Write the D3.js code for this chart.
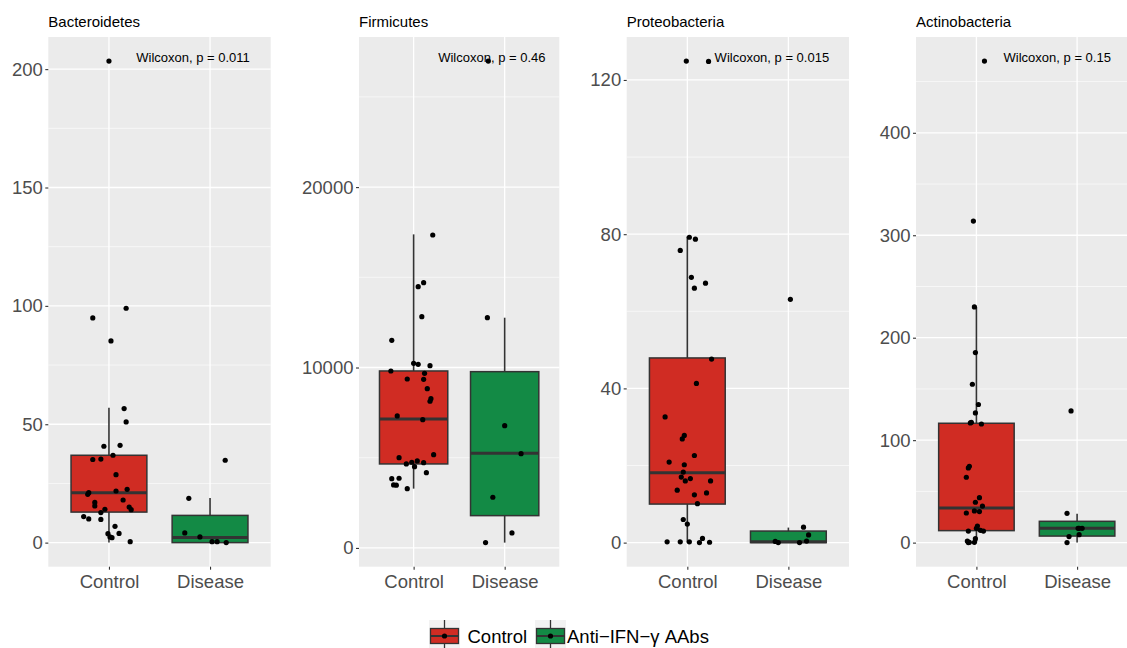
<!DOCTYPE html>
<html>
<head>
<meta charset="utf-8">
<script src="https://cdn.jsdelivr.net/npm/d3@7"></script>
<style>
  body { margin: 0; background: #fff; }
  svg { display: block; font-family: "Liberation Sans", Arial, sans-serif; }
</style>
</head>
<body>
<div id="chart"></div>
<script>
// categories and labels
const phyla = ['Bacteroidetes', 'Firmicutes', 'Proteobacteria', 'Actinobacteria'];
const groups = ['Control', 'Disease'];
const legendLabels = ['Control', 'Anti\u2212IFN\u2212\u03b3 AAbs'];
const pLabels = ['Wilcoxon, p = 0.011', 'Wilcoxon, p = 0.46', 'Wilcoxon, p = 0.015', 'Wilcoxon, p = 0.15'];

// tick values per panel
const bactTicks = [0, 50, 100, 150, 200];
const bactMinor = [25, 75, 125, 175];
const firmTicks = [0, 10000, 20000];
const firmMinor = [5000, 15000, 25000];
const proteoTicks = [0, 40, 80, 120];
const proteoMinor = [20, 60, 100];
const actinoTicks = [0, 100, 200, 300, 400];
const actinoMinor = [50, 150, 250, 350, 450];

// box stats: [lower whisker, q1, median, q3, upper whisker] for Control, Disease
const bactBoxes = [[0, 12.9, 21.1, 36.9, 57], [0, 0, 2.2, 11.5, 18.9]];
const firmBoxes = [[3286, 4655, 7148, 9808, 17380], [294, 1790, 5246, 9770, 12760]];
const proteoBoxes = [[0, 10, 18.1, 47.9, 79.4], [0, 0, 0.2, 3, 3.9]];
const actinoBoxes = [[0, 11.7, 33.8, 116.5, 230], [0, 6.4, 14, 20.8, 28.3]];

// sample values and their jitter (in category units)
const bactControl = [203.4, 99, 94.9, 85.2, 56.6, 51, 40.7, 41.1, 36.9, 35.1, 35.3, 28.7, 21.8, 22.5, 21.1, 20.4,
  18, 17, 15.5, 15, 13.9, 14.1, 12.7, 11, 10, 9.8, 6.9, 3.8, 3.9, 2.1, 2.4, 0.4];
const bactControlJit = [0, 0.17, -0.16, 0.02, 0.15, 0.17, -0.05, 0.11, 0.04, -0.16, -0.08, 0.07, 0.07, 0.18, -0.2, -0.21,
  0.14, -0.14, -0.14, 0.2, 0.22, -0.04, -0.08, -0.25, -0.2, -0.08, 0.06, -0.01, 0.1, 0.03, 0.01, 0.21];
const bactDisease = [34.8, 18.7, 4.1, 2.4, 0.4, 0.4, 0];
const bactDiseaseJit = [0.15, -0.21, -0.25, -0.1, 0.02, 0.07, 0.16];

const firmControl = [17344, 14700, 14480, 12817, 11508, 10234, 10179, 10101, 9808, 9680, 9364, 9348, 8827, 8273, 8129,
  7314, 7109, 5170, 5004, 4821, 4749, 4727, 4655, 4505, 4173, 3840, 3862, 3491, 3480, 3286];
const firmControlJit = [0.21, 0.11, 0.05, 0.09, -0.24, 0, 0.05, 0.18, -0.25, 0.12, -0.07, 0.11, 0.15, 0.19, 0.18,
  -0.18, 0.1, 0.22, -0.16, 0.04, -0.02, 0.11, -0.08, 0.01, 0.14, -0.24, -0.16, -0.22, -0.19, -0.07];
const firmDisease = [26985, 12760, 6777, 5225, 2809, 831, 294];
const firmDiseaseJit = [-0.18, -0.19, 0, 0.18, -0.13, 0.08, -0.21];

const proteoControl = [124.9, 124.8, 79.2, 78.7, 75.8, 68.8, 67.3, 66, 47.6, 41.3, 32.6, 27.8, 26.9, 22.6, 20.9, 20.2,
  18.3, 17, 16.6, 16, 16, 13.6, 12.9, 12.4, 10.1, 6, 4.8, 0.2, 0.2, 0.2, 1.1, 0, 0.1];
const proteoControlJit = [-0.01, 0.21, 0.02, 0.08, -0.07, 0.04, 0.18, 0.07, 0.24, 0.09, -0.22, -0.03, -0.05, 0.07, -0.18, -0.03,
  -0.04, -0.06, 0.03, -0.02, 0.23, -0.1, 0.19, 0.07, 0.1, -0.04, 0, -0.2, -0.07, 0.02, 0.15, 0.12, 0.22];
const proteoDisease = [63.1, 4, 2, 0.3, 0, 0, 0.4];
const proteoDiseaseJit = [0.02, 0.15, 0.2, -0.13, -0.1, 0.11, 0.18];

const actinoControl = [470, 313.8, 230, 185.5, 154.6, 134.8, 126.6, 116.8, 117.5, 115.8, 74.5, 72.9, 63.8, 43.9, 39.4,
  35.7, 28.9, 30.9, 30.3, 16.2, 14, 11.3, 12, 11.3, 3.9, 1.6, 0.3, 0.3, 0];
const actinoControlJit = [0.08, -0.03, -0.02, -0.01, -0.04, 0.02, -0.01, -0.06, -0.05, 0.05, -0.07, -0.08, -0.1, 0.03, -0.01,
  0.06, -0.1, -0.02, 0.03, 0.01, 0, -0.08, 0.04, 0.07, -0.01, -0.09, -0.07, -0.02, -0.08];
const actinoDisease = [128.5, 28.6, 14, 14, 14, 5.9, 7.8, 0];
const actinoDiseaseJit = [-0.06, -0.1, 0.02, 0.05, 0.01, -0.08, 0.02, -0.1];

const fillColors = ['#d02c23', '#138a45'];

// page layout
const width = 1127;
const height = 648;
const panelTop = 37;
const panelBottom = 566.7;
const panelLeft = [48.3, 359, 626.7, 916];
const panelWidth = [222.4, 200.3, 222.3, 221.5];

const panels = [
  {ticks: bactTicks, minor: bactMinor, boxes: bactBoxes, vals: [bactControl, bactDisease], jit: [bactControlJit, bactDiseaseJit]},
  {ticks: firmTicks, minor: firmMinor, boxes: firmBoxes, vals: [firmControl, firmDisease], jit: [firmControlJit, firmDiseaseJit]},
  {ticks: proteoTicks, minor: proteoMinor, boxes: proteoBoxes, vals: [proteoControl, proteoDisease], jit: [proteoControlJit, proteoDiseaseJit]},
  {ticks: actinoTicks, minor: actinoMinor, boxes: actinoBoxes, vals: [actinoControl, actinoDisease], jit: [actinoControlJit, actinoDiseaseJit]}
];

const svg = d3.select('#chart').append('svg')
  .attr('width', width)
  .attr('height', height);

panels.forEach((p, k) => {
  const left = panelLeft[k];
  const right = left + panelWidth[k];

  // y range like ggplot: data extent plus 5% each side
  const all = p.vals[0].concat(p.vals[1]);
  const lo = d3.min(all), hi = d3.max(all);
  const pad = (hi - lo) * 0.05;
  const y = d3.scaleLinear().domain([lo - pad, hi + pad]).range([panelBottom, panelTop]);
  const x = d3.scalePoint().domain(groups).range([left, right]).padding(0.6);
  const step = x.step();

  const g = svg.append('g');

  // panel background and grid
  g.append('rect')
    .attr('x', left).attr('y', panelTop)
    .attr('width', right - left).attr('height', panelBottom - panelTop)
    .attr('fill', '#ebebeb');

  g.selectAll('.minor').data(p.minor).enter().append('line')
    .attr('x1', left).attr('x2', right)
    .attr('y1', d => y(d)).attr('y2', d => y(d))
    .attr('stroke', '#fff').attr('stroke-width', 0.6);

  g.selectAll('.major').data(p.ticks).enter().append('line')
    .attr('x1', left).attr('x2', right)
    .attr('y1', d => y(d)).attr('y2', d => y(d))
    .attr('stroke', '#fff').attr('stroke-width', 1.3);

  g.selectAll('.vgrid').data(groups).enter().append('line')
    .attr('x1', d => x(d)).attr('x2', d => x(d))
    .attr('y1', panelTop).attr('y2', panelBottom)
    .attr('stroke', '#fff').attr('stroke-width', 1.3);

  // axes
  const yAxis = d3.axisLeft(y).tickValues(p.ticks).tickFormat(d3.format('d')).tickSize(3).tickPadding(2.5);
  const ya = g.append('g').attr('transform', `translate(${left},0)`).call(yAxis);
  const xAxis = d3.axisBottom(x).tickSize(3).tickPadding(5);
  const xa = g.append('g').attr('transform', `translate(0,${panelBottom})`).call(xAxis);
  [ya, xa].forEach(a => {
    a.select('.domain').remove();
    a.selectAll('line').attr('stroke', '#333').attr('stroke-width', 1.1);
    a.selectAll('text').attr('fill', '#4d4d4d').style('font-size', '18.5px')
      .style('font-family', '"Liberation Sans", Arial, sans-serif');
  });

  // boxplots
  groups.forEach((grp, j) => {
    const b = p.boxes[j];
    const cx = x(grp);
    const bw = step * 0.75;
    const bg = g.append('g');
    bg.append('line')
      .attr('x1', cx).attr('x2', cx)
      .attr('y1', y(b[0])).attr('y2', y(b[4]))
      .attr('stroke', '#333').attr('stroke-width', 1.6);
    bg.append('rect')
      .attr('x', cx - bw / 2).attr('width', bw)
      .attr('y', y(b[3])).attr('height', Math.max(y(b[1]) - y(b[3]), 0.5))
      .attr('fill', fillColors[j])
      .attr('stroke', '#333').attr('stroke-width', 1.5);
    bg.append('line')
      .attr('x1', cx - bw / 2).attr('x2', cx + bw / 2)
      .attr('y1', y(b[2])).attr('y2', y(b[2]))
      .attr('stroke', '#333').attr('stroke-width', 3);

    // jittered points
    g.selectAll('.pt' + j).data(p.vals[j]).enter().append('circle')
      .attr('cx', (d, i) => cx + p.jit[j][i] * step)
      .attr('cy', d => y(d))
      .attr('r', 2.6)
      .attr('fill', '#000');
  });

  // titles and p value
  svg.append('text')
    .attr('x', left).attr('y', 27)
    .style('font-size', '15px')
    .attr('fill', '#000')
    .text(phyla[k]);

  svg.append('text')
    .attr('x', x(groups[0]) + 0.27 * step).attr('y', 62)
    .style('font-size', '13px')
    .attr('fill', '#000')
    .text(pLabels[k]);
});

// legend
const legendY = 636;
const keyX = [429, 535];
const textX = [467.5, 567];
legendLabels.forEach((lab, j) => {
  const kx = keyX[j];
  const lg = svg.append('g');
  lg.append('rect')
    .attr('x', kx).attr('y', legendY - 16)
    .attr('width', 31).attr('height', 32)
    .attr('fill', '#f2f2f2');
  lg.append('line')
    .attr('x1', kx + 15.5).attr('x2', kx + 15.5)
    .attr('y1', legendY - 16).attr('y2', legendY + 16)
    .attr('stroke', '#333').attr('stroke-width', 1.3);
  lg.append('rect')
    .attr('x', kx + 1.5).attr('y', legendY - 7.5)
    .attr('width', 28).attr('height', 15)
    .attr('fill', fillColors[j])
    .attr('stroke', '#333').attr('stroke-width', 1.3);
  lg.append('line')
    .attr('x1', kx + 1.5).attr('x2', kx + 29.5)
    .attr('y1', legendY).attr('y2', legendY)
    .attr('stroke', '#333').attr('stroke-width', 2);
  lg.append('circle')
    .attr('cx', kx + 15.5).attr('cy', legendY).attr('r', 2.6).attr('fill', '#000');
  lg.append('text')
    .attr('x', textX[j]).attr('y', legendY + 7)
    .style('font-size', '18.5px')
    .attr('fill', '#000')
    .text(lab);
});
</script>
</body>
</html>
